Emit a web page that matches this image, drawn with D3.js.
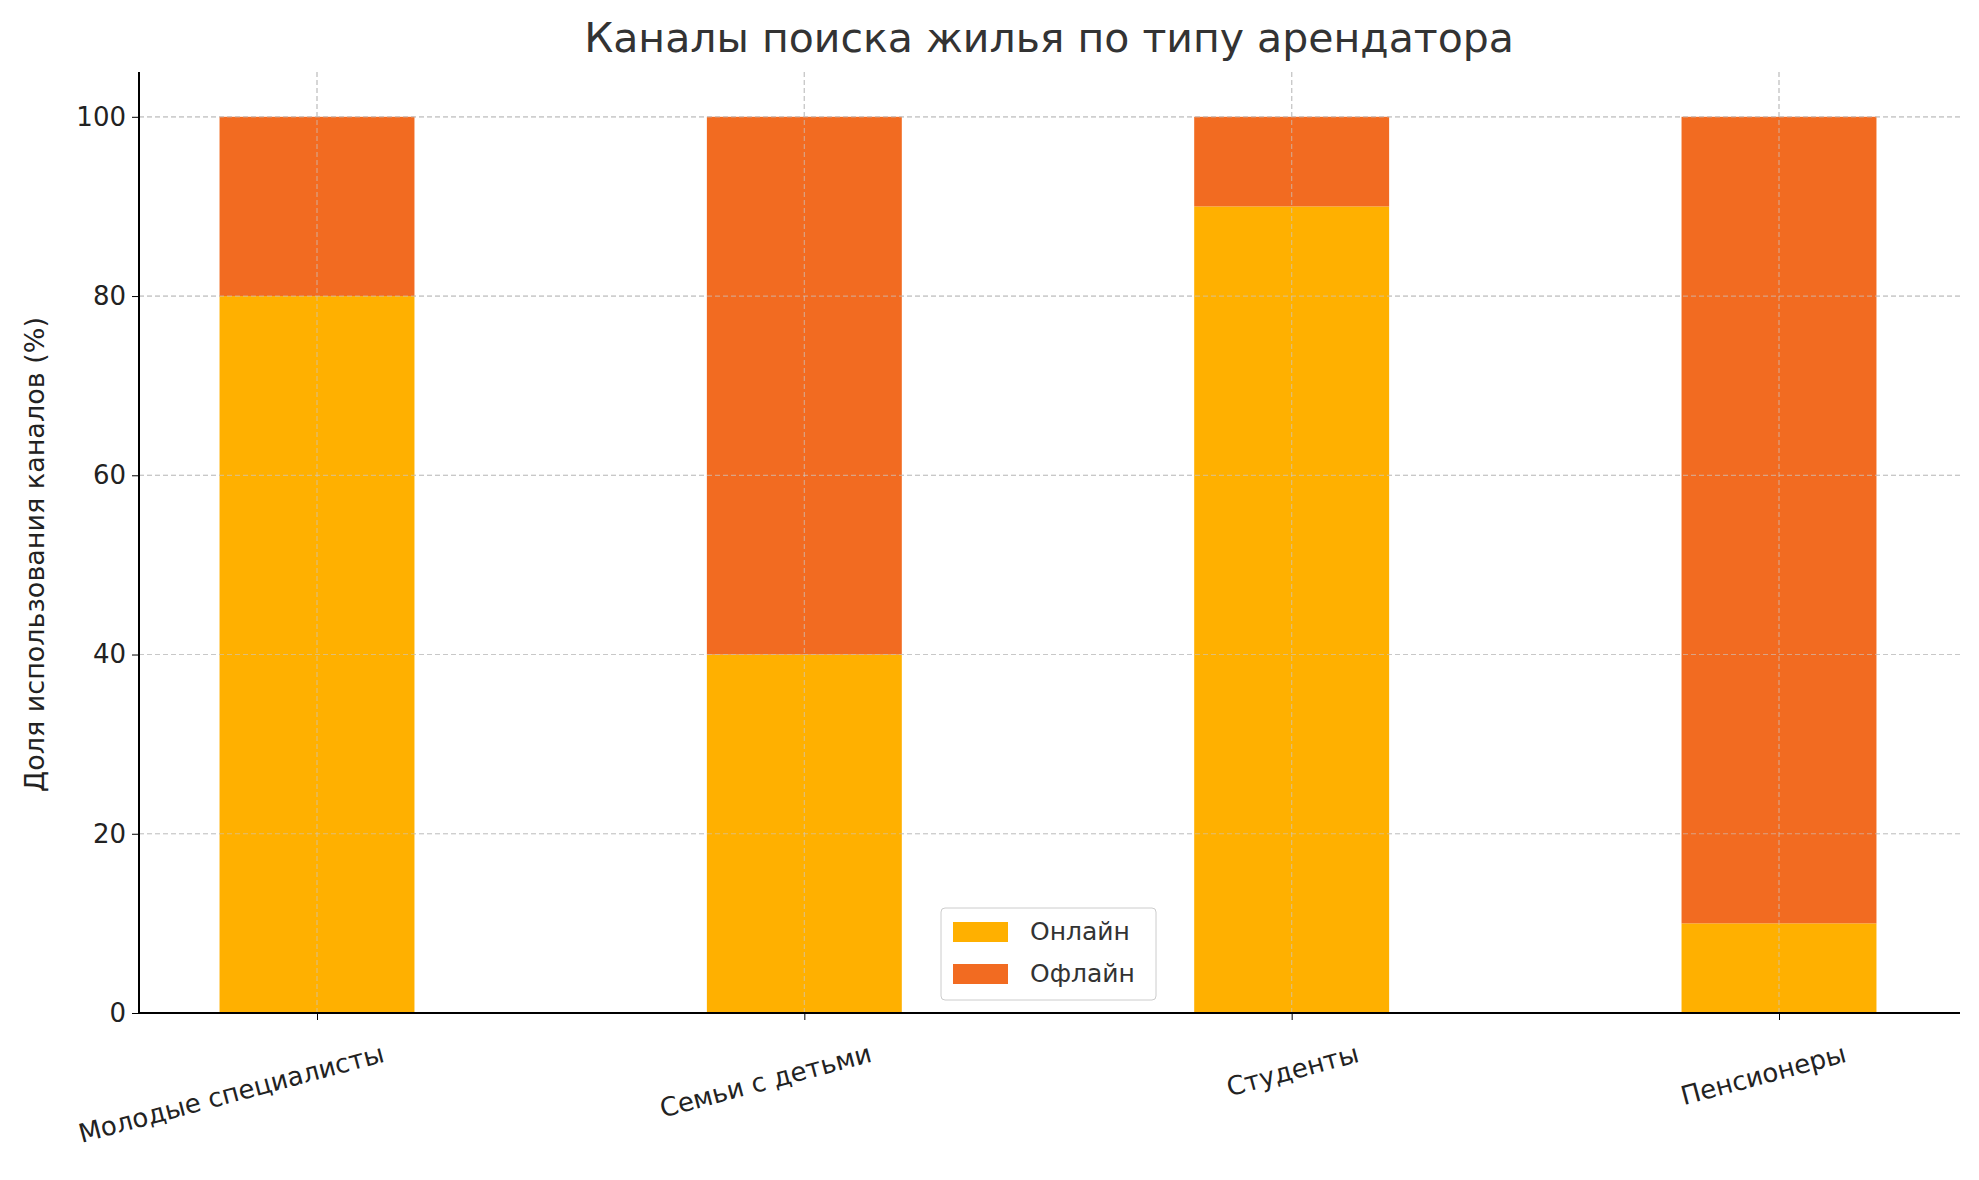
<!DOCTYPE html>
<html><head><meta charset="utf-8">
<script src="https://cdn.jsdelivr.net/npm/d3@7"></script>
<style>body{margin:0;background:#fff}text{font-family:"DejaVu Sans",sans-serif}</style>
</head><body><svg id="c" width="1979" height="1180"></svg>
<script>
const categories=["Молодые специалисты","Семьи с детьми","Студенты","Пенсионеры"];
const online=[80,40,90,10];
const offline=[20,60,10,90];
const seriesNames=["Онлайн","Офлайн"];
const colors=["#FFB000","#F26B21"];
const yTicks=[0,20,40,60,80,100];

const svg=d3.select("#c");
const L=139,R=1960,T=72,B=1013;
const x=d3.scalePoint().domain(categories).range([317,1779]);
const bw=(x.step())*0.4;
const y=d3.scaleLinear().domain([0,105]).range([B,T]);

// grid
svg.append("g").selectAll("line").data(yTicks).join("line")
 .attr("x1",L).attr("x2",R).attr("y1",d=>y(d)).attr("y2",d=>y(d))
 .attr("stroke","#c8c8c8").attr("stroke-dasharray","5,3").attr("stroke-width",1.2);
svg.append("g").selectAll("line").data(categories).join("line")
 .attr("x1",d=>x(d)).attr("x2",d=>x(d)).attr("y1",T).attr("y2",B)
 .attr("stroke","#c8c8c8").attr("stroke-dasharray","5,3").attr("stroke-width",1.2);

const stack=d3.stack().keys([0,1]).value((d,k)=>d[k])(categories.map((c,i)=>[online[i],offline[i]]));
stack.forEach((s,k)=>{
 svg.append("g").selectAll("rect").data(s).join("rect")
  .attr("x",(d,i)=>x(categories[i])-bw/2).attr("width",bw)
  .attr("y",d=>y(d[1])).attr("height",d=>y(d[0])-y(d[1]))
  .attr("fill",colors[k]);
});
// re-draw vertical grid over bars (matplotlib grid drawn above)
svg.append("g").selectAll("line").data(categories).join("line")
 .attr("x1",d=>x(d)).attr("x2",d=>x(d)).attr("y1",T).attr("y2",B)
 .attr("stroke","#c8c8c8").attr("stroke-opacity",0.6).attr("stroke-dasharray","5,3").attr("stroke-width",1.2);
svg.append("g").selectAll("line").data(yTicks).join("line")
 .attr("x1",L).attr("x2",R).attr("y1",d=>y(d)).attr("y2",d=>y(d))
 .attr("stroke","#c8c8c8").attr("stroke-opacity",0.6).attr("stroke-dasharray","5,3").attr("stroke-width",1.2);

// axes
const ya=svg.append("g").attr("transform",`translate(${L},0)`)
 .call(d3.axisLeft(y).tickValues(yTicks).tickSize(7).tickPadding(6));
ya.select(".domain").attr("stroke","#000").attr("stroke-width",2).attr("d",`M0,${T}V${B}`);
ya.selectAll("text").attr("font-size",26).attr("fill","#222").attr("font-family","DejaVu Sans");
const xa=svg.append("g").attr("transform",`translate(0,${B})`)
 .call(d3.axisBottom(x).tickSize(7).tickPadding(6));
xa.select(".domain").attr("stroke","#000").attr("stroke-width",2).attr("d",`M${L},0H${R}`);
xa.selectAll("text").attr("font-size",26).attr("fill","#222").attr("font-family","DejaVu Sans")
 .attr("text-anchor","end").attr("transform","translate(60,18) rotate(-15)");

svg.append("text").attr("x",1049).attr("y",52).attr("text-anchor","middle")
 .attr("font-size",41).attr("fill","#333").text("Каналы поиска жилья по типу арендатора");
svg.append("text").attr("transform",`translate(44,${(T+B)/2+12}) rotate(-90)`).attr("text-anchor","middle")
 .attr("font-size",27).attr("fill","#222").text("Доля использования каналов (%)");

// legend
const lg=svg.append("g").attr("transform","translate(941,908)");
lg.append("rect").attr("width",215).attr("height",92).attr("rx",4).attr("fill","#fff").attr("fill-opacity",0.85).attr("stroke","#ccc");
seriesNames.forEach((n,i)=>{
 lg.append("rect").attr("x",12).attr("y",14+i*42).attr("width",55).attr("height",20).attr("fill",colors[i]);
 lg.append("text").attr("x",89).attr("y",32+i*42).attr("font-size",25).attr("fill","#333").text(n);
});
</script></body></html>
